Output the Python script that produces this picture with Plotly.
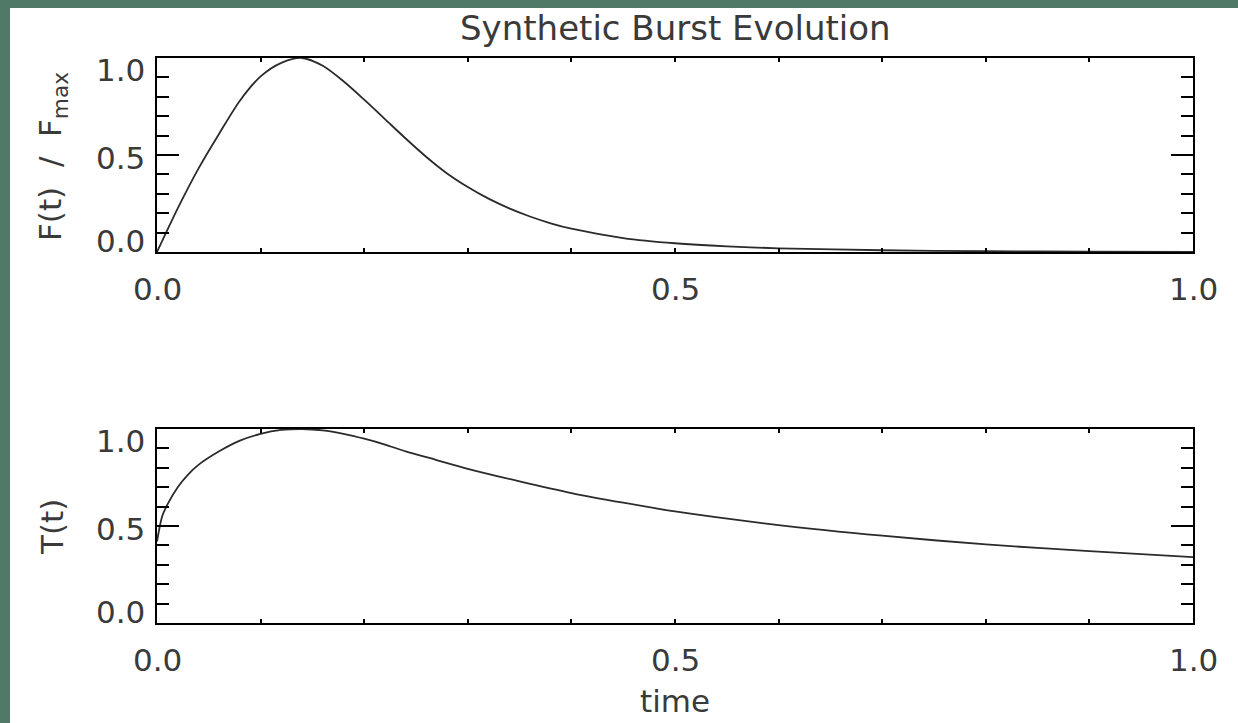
import plotly.graph_objects as go

# ---- data ----
t_flux = [0.0, 0.02, 0.04, 0.06, 0.08, 0.10, 0.12, 0.14, 0.16, 0.18, 0.20, 0.22, 0.24,
          0.26, 0.28, 0.30, 0.32, 0.34, 0.36, 0.38, 0.40, 0.45, 0.50, 0.55, 0.60,
          0.70, 0.80, 0.90, 1.0]
flux = [0.0, 0.225, 0.43, 0.61, 0.78, 0.905, 0.975, 1.0, 0.96, 0.88, 0.785, 0.685, 0.585,
        0.49, 0.405, 0.335, 0.275, 0.225, 0.183, 0.148, 0.12, 0.072, 0.045, 0.029, 0.019,
        0.009, 0.004, 0.002, 0.001]

t_temp = [0.0, 0.005, 0.01, 0.02, 0.03, 0.04, 0.06, 0.08, 0.10, 0.12, 0.14, 0.16, 0.18,
          0.20, 0.22, 0.24, 0.27, 0.30, 0.35, 0.40, 0.45, 0.50, 0.60, 0.70, 0.80, 0.90, 1.0]
temp = [0.42, 0.55, 0.61, 0.70, 0.765, 0.815, 0.885, 0.94, 0.975, 0.995, 1.0, 0.993, 0.975,
        0.95, 0.92, 0.885, 0.84, 0.795, 0.73, 0.67, 0.62, 0.575, 0.505, 0.45, 0.405, 0.37, 0.34]

x_ticks = [0.0, 0.5, 1.0]
x_tick_labels = ["0.0", "0.5", "1.0"]
y_ticks = [0.0, 0.5, 1.0]
y_tick_labels = ["0.0", "0.5", "1.0"]

title = "Synthetic Burst Evolution"
ytitle_top = "F(t)  /  F<sub>max</sub>"
ytitle_bottom = "T(t)"
xtitle = "time"

# ---- style ----
W, H = 1238, 723
FONT = "DejaVu Sans"
TXT = "#3a3a3a"
FS = 31
LINE = "#2b2b2b"
GREEN = "#507968"

x0, x1 = 157 / W, 1193 / W
top_dom = [1 - 252 / H, 1 - 58 / H]
bot_dom = [1 - 623 / H, 1 - 429 / H]

fig = go.Figure()
fig.add_trace(go.Scatter(x=t_flux, y=flux, mode="lines", xaxis="x", yaxis="y",
                         line=dict(color=LINE, width=1.8, shape="spline", smoothing=0.8),
                         showlegend=False, hoverinfo="skip"))
fig.add_trace(go.Scatter(x=t_temp, y=temp, mode="lines", xaxis="x2", yaxis="y2",
                         line=dict(color=LINE, width=1.8, shape="spline", smoothing=0.8),
                         showlegend=False, hoverinfo="skip"))

xa = dict(range=[0, 1], showgrid=False, zeroline=False, showline=True, linecolor="black",
          linewidth=2, mirror="ticks", ticks="inside", tickvals=x_ticks, ticklen=4,
          tickwidth=1.5, tickcolor="black", showticklabels=False,
          minor=dict(dtick=0.1, ticklen=4, tickwidth=1.5, tickcolor="black", ticks="inside"),
          domain=[x0, x1], fixedrange=True)
ya = dict(range=[0, 1], showgrid=False, zeroline=False, showline=True, linecolor="black",
          linewidth=2, mirror="ticks", ticks="inside", tickvals=y_ticks, ticklen=22,
          tickwidth=2, tickcolor="black", showticklabels=False,
          minor=dict(dtick=0.1, ticklen=12, tickwidth=2, tickcolor="black", ticks="inside"),
          fixedrange=True)

fig.update_layout(
    width=W, height=H, margin=dict(l=0, r=0, t=0, b=0),
    paper_bgcolor=GREEN, plot_bgcolor="white",
    xaxis=dict(xa, anchor="y"),
    yaxis=dict(ya, domain=top_dom, anchor="x"),
    xaxis2=dict(xa, anchor="y2"),
    yaxis2=dict(ya, domain=bot_dom, anchor="x2"),
    font=dict(family=FONT, color=TXT, size=FS),
)

fig.add_shape(type="rect", xref="paper", yref="paper", x0=10 / W, x1=1, y0=0, y1=1 - 8 / H,
              fillcolor="white", line=dict(width=0), layer="below")

ann = []
yshift_map = {0.0: 11, 0.5: -3, 1.0: -12}
for xr, yr in (("x", "y"), ("x2", "y2")):
    for v, lab in zip(x_ticks, x_tick_labels):
        ann.append(dict(x=v, y=0, xref=xr, yref=yr, text=lab, showarrow=False,
                        font=dict(size=FS),
                        xanchor="center", yanchor="middle", yshift=-37))
    for v, lab in zip(y_ticks, y_tick_labels):
        ann.append(dict(x=0, y=v, xref=xr, yref=yr, text=lab, showarrow=False,
                        font=dict(size=FS),
                        xanchor="right", yanchor="middle", xshift=-10, yshift=yshift_map[v]))

ann.append(dict(x=(x0 + x1) / 2, y=1 - 28 / H, xref="paper", yref="paper", text=title,
                font=dict(size=34),
                showarrow=False, xanchor="center", yanchor="middle"))
ann.append(dict(x=52 / W, y=1 - 157 / H, xref="paper", yref="paper",
                text=ytitle_top, textangle=-90, showarrow=False, font=dict(size=FS),
                xanchor="center", yanchor="middle"))
ann.append(dict(x=52 / W, y=1 - 527 / H, xref="paper", yref="paper",
                text=ytitle_bottom, textangle=-90, showarrow=False, font=dict(size=FS),
                xanchor="center", yanchor="middle"))
ann.append(dict(x=(x0 + x1) / 2, y=1 - 701 / H, xref="paper", yref="paper", text=xtitle,
                showarrow=False, font=dict(size=FS), xanchor="center", yanchor="middle"))
fig.update_layout(annotations=ann)

fig.write_html("out.html")
